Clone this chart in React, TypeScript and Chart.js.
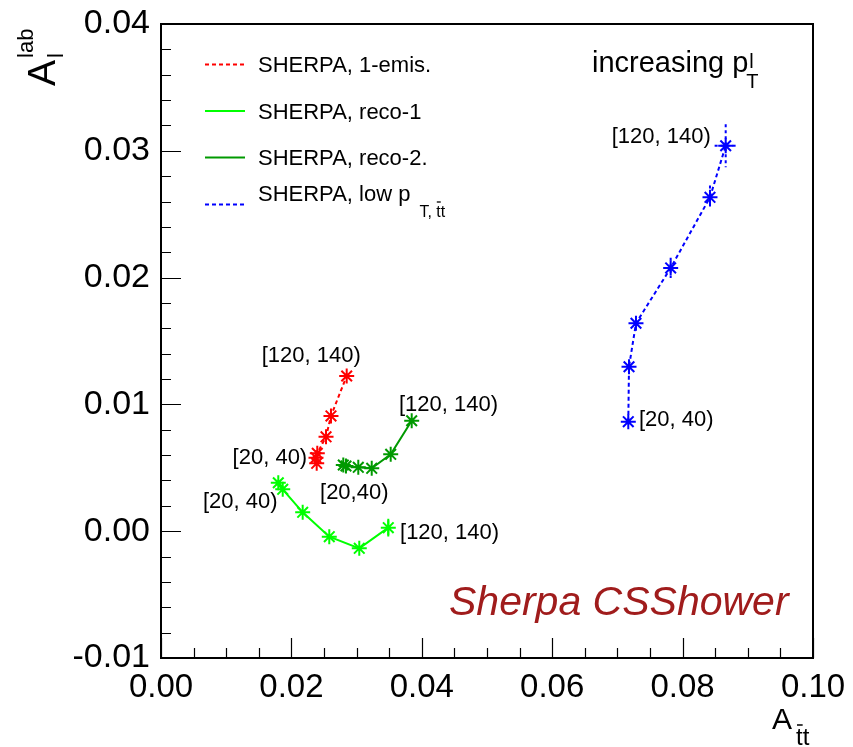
import React, { useEffect, useRef } from "react";
import { Chart, registerables } from "chart.js";

Chart.register(...registerables);

// ---- Data (A_ttbar, A_l^lab) per p_T^l bin, [20,40) ... [120,140) ----
const emisX = [0.02388, 0.02377, 0.02397, 0.02531, 0.02607, 0.02848];
const emisY = [0.00535, 0.0058, 0.00614, 0.00744, 0.00909, 0.01224];

const reco1X = [0.01799, 0.01867, 0.02173, 0.02581, 0.03041, 0.03486];
const reco1Y = [0.00382, 0.0033, 0.00149, -0.00043, -0.00135, 0.00028];
const reco1YErr = [0, 0, 0, 0, 0, 0.0007];

const reco2X = [0.02796, 0.02837, 0.03026, 0.03232, 0.03523, 0.03845];
const reco2Y = [0.00522, 0.00514, 0.00504, 0.00496, 0.00606, 0.00871];

const lowX = [0.07167, 0.07178, 0.07285, 0.07817, 0.0842, 0.08661];
const lowY = [0.00864, 0.01297, 0.0164, 0.02076, 0.02633, 0.0304];
const lowXErr = [0, 0, 0, 0, 0, 0.0017];
const lowYErr = [0, 0, 0, 0.0008, 0.00093, 0.0017];

// bin labels (left edge, vertical middle) in data coordinates
const labelTexts = ["[120, 140)", "[20, 40)", "[120, 140)", "[20,40)", "[20, 40)", "[120, 140)", "[120, 140)", "[20, 40)"];
const labelX = [0.01545, 0.01098, 0.0365, 0.02439, 0.00644, 0.03666, 0.06913, 0.07331];
const labelY = [0.01383, 0.00577, 0.00995, 0.00305, 0.00233, -0.0001, 0.03111, 0.00877];

const seriesNames = ["SHERPA, 1-emis.", "SHERPA, reco-1", "SHERPA, reco-2.", "SHERPA, low p"];
const seriesColors = ["#ff0000", "#00ff00", "#009900", "#0000ff"];
const seriesDashed = [true, false, false, true];

const X_MIN = 0.0, X_MAX = 0.1, X_STEP = 0.02, X_MINOR = 0.005;
const Y_MIN = -0.01, Y_MAX = 0.04, Y_STEP = 0.01, Y_MINOR = 0.002;

const FONT = "'Liberation Sans', Arial, Helvetica, sans-serif";

function toPts(xs: number[], ys: number[]) {
  return xs.map((x, i) => ({ x, y: ys[i] }));
}

const decorPlugin = {
  id: "decor",
  afterDatasetsDraw(chart: any) {
    const ctx: CanvasRenderingContext2D = chart.ctx;
    const xs = chart.scales.x;
    const ys = chart.scales.y;
    const ca = chart.chartArea;

    const drawErr = (xArr: number[], yArr: number[], xe: number[] | null, ye: number[] | null, color: string, dashed: boolean) => {
      ctx.save();
      ctx.strokeStyle = color;
      ctx.lineWidth = 2;
      ctx.setLineDash(dashed ? [3, 3] : []);
      xArr.forEach((xv, i) => {
        const px = xs.getPixelForValue(xv);
        const py = ys.getPixelForValue(yArr[i]);
        if (ye && ye[i] > 0) {
          ctx.beginPath();
          ctx.moveTo(px, ys.getPixelForValue(yArr[i] + ye[i]));
          ctx.lineTo(px, ys.getPixelForValue(yArr[i] - ye[i]));
          ctx.stroke();
        }
        if (xe && xe[i] > 0) {
          ctx.beginPath();
          ctx.moveTo(xs.getPixelForValue(xv - xe[i]), py);
          ctx.lineTo(xs.getPixelForValue(xv + xe[i]), py);
          ctx.stroke();
        }
      });
      ctx.restore();
    };
    drawErr(reco1X, reco1Y, null, reco1YErr, seriesColors[1], false);
    drawErr(lowX, lowY, lowXErr, lowYErr, seriesColors[3], true);

    ctx.save();
    ctx.strokeStyle = "#000";
    ctx.lineWidth = 2;
    ctx.setLineDash([]);
    ctx.strokeRect(ca.left, ca.top, ca.right - ca.left, ca.bottom - ca.top);

    ctx.lineWidth = 1.2;
    ctx.beginPath();
    for (let v = X_MIN; v <= X_MAX + 1e-9; v += X_MINOR) {
      const px = Math.round(xs.getPixelForValue(v)) + 0.5;
      const major = Math.abs(v / X_STEP - Math.round(v / X_STEP)) < 1e-6;
      ctx.moveTo(px, ca.bottom);
      ctx.lineTo(px, ca.bottom - (major ? 20 : 10));
    }
    for (let v = Y_MIN; v <= Y_MAX + 1e-9; v += Y_MINOR) {
      const py = Math.round(ys.getPixelForValue(v)) + 0.5;
      const major = Math.abs(v / Y_STEP - Math.round(v / Y_STEP)) < 1e-6;
      ctx.moveTo(ca.left, py);
      ctx.lineTo(ca.left + (major ? 20 : 10), py);
    }
    ctx.stroke();

    ctx.fillStyle = "#000";
    ctx.font = `22px ${FONT}`;
    ctx.textAlign = "left";
    ctx.textBaseline = "middle";
    labelTexts.forEach((t, i) => {
      ctx.fillText(t, xs.getPixelForValue(labelX[i]), ys.getPixelForValue(labelY[i]));
    });

    const lgX = ca.left + 44;
    const lgY = [ca.top + 40, ca.top + 86.5, ca.top + 133, ca.top + 180];
    seriesNames.forEach((name, i) => {
      ctx.strokeStyle = seriesColors[i];
      ctx.lineWidth = 2;
      ctx.setLineDash(seriesDashed[i] ? [4, 3] : []);
      ctx.beginPath();
      ctx.moveTo(lgX, lgY[i] + 0.5);
      ctx.lineTo(lgX + 40, lgY[i] + 0.5);
      ctx.stroke();
      ctx.setLineDash([]);
      ctx.fillStyle = "#000";
      ctx.font = `22px ${FONT}`;
      ctx.textBaseline = "alphabetic";
      const ty = i === 3 ? lgY[i] - 3 : lgY[i] + 8;
      ctx.fillText(name, lgX + 53, ty);
      if (i === 3) {
        const w = ctx.measureText(name).width;
        ctx.font = `16px ${FONT}`;
        const sx = lgX + 53 + w + 9;
        ctx.fillText("T, ", sx, ty + 16);
        const w2 = ctx.measureText("T, ").width;
        ctx.fillText("tt", sx + w2, ty + 16);
        const tw = ctx.measureText("t").width;
        ctx.lineWidth = 1.3;
        ctx.strokeStyle = "#000";
        ctx.beginPath();
        ctx.moveTo(sx + w2 + 0.5, ty + 1);
        ctx.lineTo(sx + w2 + tw, ty + 1);
        ctx.stroke();
      }
    });

    ctx.fillStyle = "#000";
    ctx.font = `29px ${FONT}`;
    ctx.textBaseline = "alphabetic";
    const ix = 592, iy = 72;
    ctx.fillText("increasing p", ix, iy);
    const iw = ctx.measureText("increasing p").width;
    ctx.font = `20px ${FONT}`;
    ctx.fillText("l", ix + iw + 1, iy - 4);
    ctx.fillText("T", ix + iw - 2, iy + 16);

    ctx.fillStyle = "#a01c1c";
    ctx.font = `italic 41px ${FONT}`;
    ctx.fillText("Sherpa CSShower", 449, 615);

    ctx.fillStyle = "#000";
    ctx.font = `30px ${FONT}`;
    ctx.fillText("A", 772, 729);
    ctx.font = `24px ${FONT}`;
    ctx.fillText("tt", 796, 745);
    const ttw = ctx.measureText("t").width;
    ctx.lineWidth = 1.5;
    ctx.strokeStyle = "#000";
    ctx.beginPath();
    ctx.moveTo(797, 725);
    ctx.lineTo(796 + ttw, 725);
    ctx.stroke();

    ctx.save();
    ctx.translate(55, 86);
    ctx.rotate(-Math.PI / 2);
    ctx.font = `39px ${FONT}`;
    ctx.fillText("A", 0, 0);
    const aw = ctx.measureText("A").width;
    ctx.font = `22px ${FONT}`;
    ctx.fillText("l", aw + 2, 8);
    ctx.fillText("lab", aw + 2, -22);
    ctx.restore();

    ctx.restore();
  },
};

export default function App() {
  const ref = useRef<HTMLCanvasElement>(null);
  useEffect(() => {
    document.body.style.margin = "0";
    const canvas = ref.current!;
    const mk = (xsArr: number[], ysArr: number[], i: number) => ({
      label: seriesNames[i],
      data: toPts(xsArr, ysArr),
      showLine: true,
      borderColor: seriesColors[i],
      backgroundColor: seriesColors[i],
      borderWidth: 2,
      borderDash: seriesDashed[i] ? [4, 3] : [],
      pointStyle: "star" as const,
      pointRadius: 7.5,
      pointBorderWidth: 2,
      pointBorderColor: seriesColors[i],
      pointBackgroundColor: seriesColors[i],
      tension: 0,
    });
    const chart = new Chart(canvas, {
      type: "scatter",
      data: {
        datasets: [
          mk(emisX, emisY, 0),
          mk(reco1X, reco1Y, 1),
          mk(reco2X, reco2Y, 2),
          mk(lowX, lowY, 3),
        ],
      },
      options: {
        responsive: false,
        animation: false,
        layout: { padding: { top: 24, right: 40, left: 0, bottom: 0 } },
        plugins: { legend: { display: false }, tooltip: { enabled: false } },
        scales: {
          x: {
            type: "linear",
            min: X_MIN,
            max: X_MAX,
            grid: { display: false, drawTicks: false },
            border: { display: false },
            ticks: {
              stepSize: X_STEP,
              padding: 10,
              color: "#000",
              font: { family: FONT, size: 33 },
              callback: (v: any) => Number(v).toFixed(2),
              maxRotation: 0,
              autoSkip: false,
            },
            afterFit: (s: any) => {
              s.height = 89;
              s.paddingLeft = 0;
              s.paddingRight = 0;
            },
          },
          y: {
            type: "linear",
            min: Y_MIN,
            max: Y_MAX,
            grid: { display: false, drawTicks: false },
            border: { display: false },
            ticks: {
              stepSize: Y_STEP,
              padding: 11,
              color: "#000",
              font: { family: FONT, size: 34 },
              callback: (v: any) => Number(v).toFixed(2),
              autoSkip: false,
            },
            afterFit: (s: any) => {
              s.width = 161;
              s.paddingTop = 0;
              s.paddingBottom = 0;
            },
          },
        },
      },
      plugins: [decorPlugin],
    });
    return () => chart.destroy();
  }, []);
  return (
    <div style={{ width: 853, height: 747 }}>
      <canvas ref={ref} width={853} height={747} style={{ display: "block" }} />
    </div>
  );
}
